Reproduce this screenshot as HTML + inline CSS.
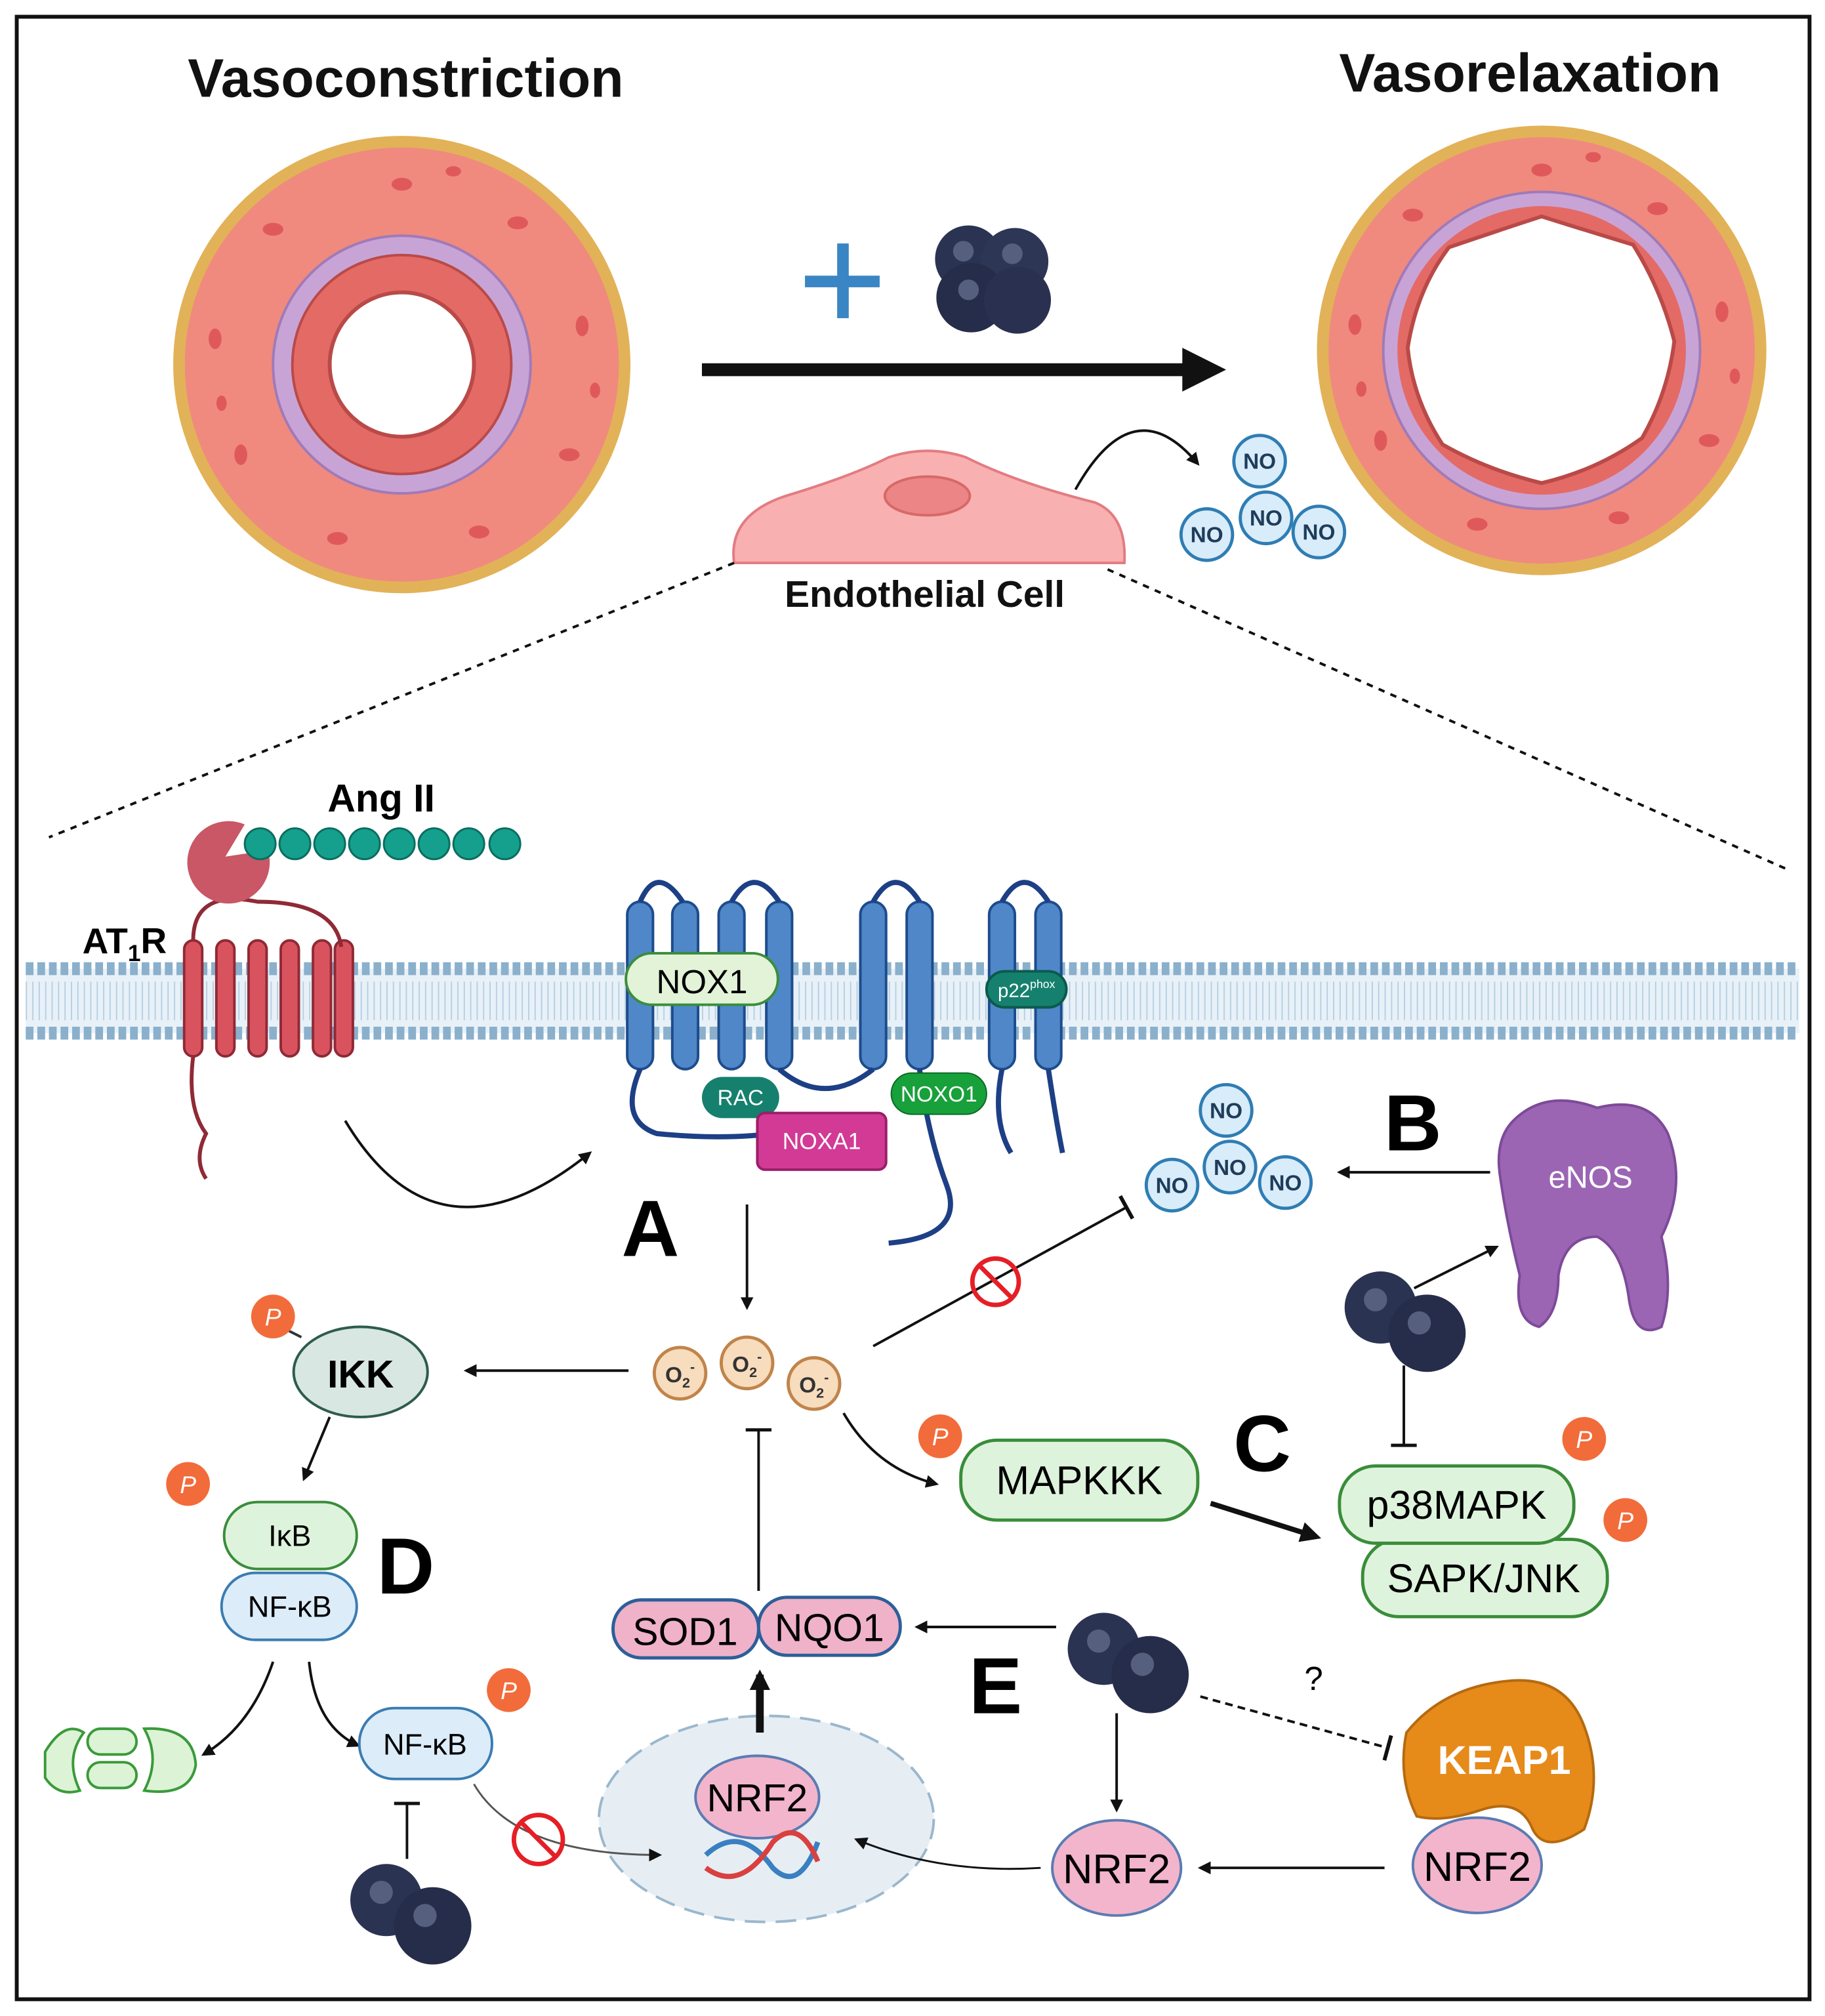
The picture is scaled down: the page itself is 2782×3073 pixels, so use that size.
<!DOCTYPE html>
<html><head><meta charset="utf-8"><style>
html,body{margin:0;padding:0;background:#fff}
svg{display:block}
text{font-family:"Liberation Sans",sans-serif}
</style></head><body>
<svg width="2782" height="3073" viewBox="0 0 1417 1565" preserveAspectRatio="none" xmlns="http://www.w3.org/2000/svg">
<defs>
<marker id="ah" markerWidth="10" markerHeight="10" refX="8" refY="5" orient="auto" markerUnits="userSpaceOnUse"><path d="M0,0 L10,5 L0,10 z" fill="#111"/></marker>
<marker id="ahb" markerWidth="16" markerHeight="16" refX="12" refY="8" orient="auto" markerUnits="userSpaceOnUse"><path d="M0,0 L16,8 L0,16 z" fill="#111"/></marker>
<marker id="tb" markerWidth="4" markerHeight="20" refX="2" refY="10" orient="auto" markerUnits="userSpaceOnUse"><rect x="0" y="0" width="3" height="20" fill="#111"/></marker>
<g id="bb">
<circle cx="-18" cy="-14" r="26" fill="#2b3352"/><circle cx="18" cy="-12" r="26" fill="#2e3656"/>
<circle cx="-16" cy="16" r="27" fill="#262d4a"/><circle cx="20" cy="18" r="26" fill="#2a3150"/>
<circle cx="-22" cy="-20" r="8" fill="#56607e"/><circle cx="16" cy="-18" r="8" fill="#56607e"/><circle cx="-18" cy="10" r="8" fill="#56607e"/>
</g>
<g id="bb2">
<circle cx="-18" cy="-10" r="28" fill="#2b3352"/><circle cx="18" cy="10" r="30" fill="#262d4a"/>
<circle cx="-22" cy="-16" r="9" fill="#56607e"/><circle cx="12" cy="2" r="9" fill="#56607e"/>
</g>
<g id="no"><circle r="20" fill="#d8ecfa" stroke="#2f7db3" stroke-width="2.5"/><text y="6" text-anchor="middle" font-size="17" font-weight="bold" fill="#1f3d5a">NO</text></g>
<g id="o2"><circle r="20" fill="#f7dcbd" stroke="#c0844a" stroke-width="2.5"/><text y="7" text-anchor="middle" font-size="17" font-weight="bold" fill="#333">O<tspan font-size="11" dy="4">2</tspan><tspan font-size="11" dy="-12">-</tspan></text></g>
<g id="p"><circle r="17" fill="#f26b3a"/><text y="7" text-anchor="middle" font-size="19" fill="#fff" font-style="italic">P</text></g>
<g id="cells" fill="#e0595a">
<ellipse cx="0" cy="-140" rx="8" ry="5"/><ellipse cx="90" cy="-110" rx="8" ry="5"/><ellipse cx="140" cy="-30" rx="5" ry="8"/><ellipse cx="130" cy="70" rx="8" ry="5"/><ellipse cx="60" cy="130" rx="8" ry="5"/><ellipse cx="-50" cy="135" rx="8" ry="5"/><ellipse cx="-125" cy="70" rx="5" ry="8"/><ellipse cx="-145" cy="-20" rx="5" ry="8"/><ellipse cx="-100" cy="-105" rx="8" ry="5"/><ellipse cx="40" cy="-150" rx="6" ry="4"/><ellipse cx="-140" cy="30" rx="4" ry="6"/><ellipse cx="150" cy="20" rx="4" ry="6"/>
</g>
</defs>

<rect x="13" y="13" width="1392" height="1539" fill="#fff" stroke="#111" stroke-width="3"/>

<text x="315" y="75" text-anchor="middle" font-size="42" font-weight="bold" fill="#111">Vasoconstriction</text>
<text x="1188" y="71" text-anchor="middle" font-size="42" font-weight="bold" fill="#111">Vasorelaxation</text>

<!-- left vessel -->
<circle cx="312" cy="283" r="173" fill="#f08a7e" stroke="#e2b258" stroke-width="9"/>
<use href="#cells" x="312" y="283"/>
<circle cx="312" cy="283" r="100" fill="#c8a4d6" stroke="#a07ab8" stroke-width="2"/>
<circle cx="312" cy="283" r="85" fill="#e46a66" stroke="#b94a48" stroke-width="2"/>
<circle cx="312" cy="283" r="56" fill="#fff" stroke="#b94a48" stroke-width="3"/>
<!-- right vessel -->
<circle cx="1197" cy="272" r="170" fill="#f08a7e" stroke="#e2b258" stroke-width="9"/>
<use href="#cells" x="1197" y="272"/>
<circle cx="1197" cy="272" r="123" fill="#c8a4d6" stroke="#a07ab8" stroke-width="2"/>
<circle cx="1197" cy="272" r="112" fill="#e46a66"/>
<path d="M1197,168 Q1235,180 1268,190 Q1290,225 1300,265 Q1295,305 1275,340 Q1240,365 1197,375 Q1155,365 1120,345 Q1097,310 1093,270 Q1100,225 1125,192 Q1160,180 1197,168 z" fill="#fff" stroke="#b94a48" stroke-width="3"/>

<!-- main arrow -->
<line x1="545" y1="287" x2="922" y2="287" stroke="#111" stroke-width="10"/>
<path d="M918,270 L952,287 L918,304 z" fill="#111"/>
<rect x="625" y="214" width="58" height="9" fill="#3a86c4"/><rect x="650" y="189" width="9" height="58" fill="#3a86c4"/>
<use href="#bb" x="770" y="215"/>

<!-- endothelial cell -->
<path d="M570,437 Q565,400 610,385 Q660,370 690,355 Q720,345 750,355 Q790,375 850,390 Q875,400 873,437 z" fill="#f9b0b0" stroke="#e27c82" stroke-width="2"/>
<ellipse cx="720" cy="385" rx="33" ry="15" fill="#ec8585" stroke="#d86868" stroke-width="2"/>
<text x="718" y="471" text-anchor="middle" font-size="29" font-weight="bold" fill="#111">Endothelial Cell</text>
<path d="M835,380 Q880,300 930,360" fill="none" stroke="#111" stroke-width="2" marker-end="url(#ah)"/>
<use href="#no" x="978" y="358"/><use href="#no" x="983" y="402"/><use href="#no" x="937" y="415"/><use href="#no" x="1024" y="413"/>

<line x1="570" y1="437" x2="38" y2="650" stroke="#111" stroke-width="2" stroke-dasharray="5,5"/>
<line x1="860" y1="442" x2="1388" y2="675" stroke="#111" stroke-width="2" stroke-dasharray="5,5"/>

<!-- membrane -->
<rect x="20" y="752" width="1377" height="50" fill="#e8f1f8"/>
<line x1="20" y1="752" x2="1397" y2="752" stroke="#8ab0cc" stroke-width="10" stroke-dasharray="6,3"/>
<line x1="20" y1="802" x2="1397" y2="802" stroke="#8ab0cc" stroke-width="10" stroke-dasharray="6,3"/>
<line x1="20" y1="777" x2="1397" y2="777" stroke="#b8d0e2" stroke-width="30" stroke-dasharray="1,4"/>

<!-- AT1R -->
<g fill="#d9535f" stroke="#8f2a36" stroke-width="2">
<rect x="143" y="730" width="14" height="90" rx="7"/><rect x="168" y="730" width="14" height="90" rx="7"/>
<rect x="193" y="730" width="14" height="90" rx="7"/><rect x="218" y="730" width="14" height="90" rx="7"/>
<rect x="243" y="730" width="14" height="90" rx="7"/><rect x="260" y="730" width="14" height="90" rx="7"/>
</g>
<path d="M150,730 Q150,690 200,700 Q260,700 265,735 M150,820 Q145,860 160,880 Q150,900 160,915" fill="none" stroke="#8f2a36" stroke-width="3"/>
<path d="M208,660 A32,32 0 1 1 190,640 L175,665 z" fill="#c95765"/>
<g fill="#14a08c" stroke="#0b6d60" stroke-width="1.5">
<circle cx="202" cy="655" r="12"/><circle cx="229" cy="655" r="12"/><circle cx="256" cy="655" r="12"/><circle cx="283" cy="655" r="12"/><circle cx="310" cy="655" r="12"/><circle cx="337" cy="655" r="12"/><circle cx="364" cy="655" r="12"/><circle cx="392" cy="655" r="12"/>
</g>
<text x="296" y="630" text-anchor="middle" font-size="30" font-weight="bold">Ang II</text>
<text x="64" y="740" font-size="28" font-weight="bold">AT<tspan font-size="18" dy="6">1</tspan><tspan dy="-6">R</tspan></text>

<!-- NOX complex -->
<g fill="#4f87c9" stroke="#1d4c8c" stroke-width="2">
<rect x="487" y="700" width="20" height="130" rx="10"/><rect x="522" y="700" width="20" height="130" rx="10"/>
<rect x="558" y="700" width="20" height="130" rx="10"/><rect x="595" y="700" width="20" height="130" rx="10"/>
<rect x="668" y="700" width="20" height="130" rx="10"/><rect x="704" y="700" width="20" height="130" rx="10"/>
<rect x="768" y="700" width="20" height="130" rx="10"/><rect x="804" y="700" width="20" height="130" rx="10"/>
</g>
<path d="M497,700 Q510,670 530,700 M568,700 Q585,670 605,700 M678,700 Q695,670 714,700 M778,700 Q795,670 814,700 M605,830 Q640,860 678,830 M497,830 Q480,870 510,880 Q560,885 600,880 M714,830 Q720,880 735,920 Q750,960 690,965 M778,830 Q770,870 785,895 M814,830 Q820,870 825,895" fill="none" stroke="#1d3f86" stroke-width="4"/>
<rect x="486" y="740" width="118" height="40" rx="20" fill="#e2f3d8" stroke="#3a8d3a" stroke-width="2"/>
<text x="545" y="771" text-anchor="middle" font-size="26">NOX1</text>
<rect x="766" y="754" width="62" height="28" rx="14" fill="#15806d" stroke="#0b5a4c" stroke-width="2"/>
<text x="797" y="774" text-anchor="middle" font-size="15" fill="#fff">p22<tspan font-size="9" dy="-7">phox</tspan></text>
<rect x="545" y="836" width="60" height="32" rx="16" fill="#15806d"/>
<text x="575" y="858" text-anchor="middle" font-size="17" fill="#fff">RAC</text>
<rect x="692" y="833" width="74" height="32" rx="16" fill="#18a03a" stroke="#0b6a24"/>
<text x="729" y="855" text-anchor="middle" font-size="17" fill="#fff">NOXO1</text>
<rect x="588" y="864" width="100" height="44" rx="6" fill="#d23a95" stroke="#9a1e6a" stroke-width="2"/>
<text x="638" y="892" text-anchor="middle" font-size="18" fill="#fff">NOXA1</text>
<path d="M268,870 Q340,990 458,895" fill="none" stroke="#111" stroke-width="2" marker-end="url(#ah)"/>

<text x="505" y="975" text-anchor="middle" font-size="62" font-weight="bold">A</text>
<text x="1097" y="893" text-anchor="middle" font-size="62" font-weight="bold">B</text>
<text x="980" y="1142" text-anchor="middle" font-size="62" font-weight="bold">C</text>
<text x="315" y="1237" text-anchor="middle" font-size="62" font-weight="bold">D</text>
<text x="773" y="1330" text-anchor="middle" font-size="62" font-weight="bold">E</text>

<line x1="580" y1="935" x2="580" y2="1015" stroke="#111" stroke-width="2" marker-end="url(#ah)"/>
<use href="#o2" x="528" y="1066"/><use href="#o2" x="580" y="1058"/><use href="#o2" x="632" y="1074"/>

<!-- B region -->
<use href="#no" x="952" y="862"/><use href="#no" x="955" y="906"/><use href="#no" x="910" y="920"/><use href="#no" x="998" y="918"/>
<line x1="1157" y1="910" x2="1040" y2="910" stroke="#111" stroke-width="2" marker-end="url(#ah)"/>
<path d="M1175,870 Q1200,845 1240,860 Q1280,850 1295,880 Q1310,920 1290,960 Q1300,1000 1290,1030 Q1270,1040 1265,1010 Q1260,970 1240,960 Q1215,960 1210,990 Q1210,1020 1195,1030 Q1175,1025 1180,990 Q1170,950 1165,915 Q1160,885 1175,870 z" fill="#9b65b4" stroke="#7d4a99" stroke-width="2"/>
<text x="1235" y="922" text-anchor="middle" font-size="24" fill="#fff">eNOS</text>
<use href="#bb2" x="1090" y="1025"/>
<line x1="1098" y1="1000" x2="1162" y2="968" stroke="#111" stroke-width="2" marker-end="url(#ah)"/>
<line x1="678" y1="1045" x2="875" y2="937" stroke="#111" stroke-width="2" marker-end="url(#tb)"/>
<circle cx="773" cy="995" r="18" fill="none" stroke="#e61e25" stroke-width="3.5"/><line x1="760" y1="982" x2="786" y2="1008" stroke="#e61e25" stroke-width="3.5"/>

<!-- D region -->
<line x1="488" y1="1064" x2="362" y2="1064" stroke="#111" stroke-width="2" marker-end="url(#ah)"/>
<ellipse cx="280" cy="1065" rx="52" ry="35" fill="#d8e7e2" stroke="#2f5b4f" stroke-width="2"/>
<text x="280" y="1077" text-anchor="middle" font-size="30" font-weight="bold">IKK</text>
<line x1="234" y1="1038" x2="222" y2="1032" stroke="#333" stroke-width="2"/>
<use href="#p" x="212" y="1022"/>
<line x1="256" y1="1100" x2="236" y2="1148" stroke="#111" stroke-width="2" marker-end="url(#ah)"/>
<use href="#p" x="146" y="1152"/>
<rect x="174" y="1166" width="103" height="52" rx="26" fill="#def3dc" stroke="#3a8d3a" stroke-width="2"/>
<text x="225" y="1200" text-anchor="middle" font-size="23">IκB</text>
<rect x="172" y="1221" width="105" height="52" rx="26" fill="#dcecf8" stroke="#3a7cb3" stroke-width="2"/>
<text x="225" y="1255" text-anchor="middle" font-size="23">NF-κB</text>
<path d="M212,1290 Q195,1340 158,1362" fill="none" stroke="#111" stroke-width="2" marker-end="url(#ah)"/>
<path d="M240,1290 Q245,1340 278,1355" fill="none" stroke="#111" stroke-width="2" marker-end="url(#ah)"/>
<g fill="#dcf3d6" stroke="#3a9a3a" stroke-width="2">
<path d="M35,1360 Q50,1335 65,1345 Q50,1365 62,1390 Q45,1395 35,1380 z"/>
<rect x="68" y="1342" width="38" height="20" rx="10"/><rect x="68" y="1368" width="38" height="20" rx="10"/>
<path d="M112,1342 Q150,1340 152,1370 Q148,1395 112,1390 Q125,1365 112,1342 z"/>
</g>
<rect x="279" y="1326" width="103" height="55" rx="27" fill="#dcecf8" stroke="#3a7cb3" stroke-width="2"/>
<text x="330" y="1362" text-anchor="middle" font-size="23">NF-κB</text>
<use href="#p" x="395" y="1312"/>
<line x1="316" y1="1400" x2="316" y2="1443" stroke="#111" stroke-width="2"/><line x1="306" y1="1400" x2="326" y2="1400" stroke="#111" stroke-width="2.5"/>
<use href="#bb2" x="318" y="1485"/>

<!-- nucleus / E region -->
<ellipse cx="595" cy="1412" rx="130" ry="80" fill="#e6eef4" stroke="#9bb7cc" stroke-width="2" stroke-dasharray="16,8"/>
<path d="M368,1385 Q400,1440 512,1440" fill="none" stroke="#555" stroke-width="1.5" marker-end="url(#ah)"/>
<circle cx="418" cy="1428" r="19" fill="#fff" fill-opacity="0" stroke="#e61e25" stroke-width="3.5"/><line x1="405" y1="1415" x2="431" y2="1441" stroke="#e61e25" stroke-width="3.5"/>
<ellipse cx="588" cy="1395" rx="48" ry="32" fill="#f2b5cc" stroke="#5b7bb3" stroke-width="2"/>
<text x="588" y="1406" text-anchor="middle" font-size="30">NRF2</text>
<path d="M548,1440 Q575,1415 600,1450 Q620,1470 635,1430" fill="none" stroke="#3a7fc1" stroke-width="4"/>
<path d="M548,1450 Q575,1470 600,1430 Q620,1410 635,1445" fill="none" stroke="#d94040" stroke-width="4"/>
<line x1="590" y1="1345" x2="590" y2="1300" stroke="#111" stroke-width="6" marker-end="url(#ahb)"/>
<rect x="476" y="1242" width="113" height="45" rx="22" fill="#efb2c9" stroke="#2d5f99" stroke-width="2.5"/>
<text x="532" y="1277" text-anchor="middle" font-size="30">SOD1</text>
<rect x="589" y="1240" width="110" height="45" rx="22" fill="#efb2c9" stroke="#2d5f99" stroke-width="2.5"/>
<text x="644" y="1274" text-anchor="middle" font-size="30">NQO1</text>
<line x1="589" y1="1235" x2="589" y2="1110" stroke="#111" stroke-width="2"/><line x1="579" y1="1110" x2="599" y2="1110" stroke="#111" stroke-width="2.5"/>
<line x1="820" y1="1263" x2="712" y2="1263" stroke="#111" stroke-width="2" marker-end="url(#ah)"/>
<use href="#bb2" x="875" y="1290"/>
<line x1="867" y1="1330" x2="867" y2="1405" stroke="#111" stroke-width="2" marker-end="url(#ah)"/>
<line x1="932" y1="1317" x2="1078" y2="1357" stroke="#111" stroke-width="2" stroke-dasharray="6,4" marker-end="url(#tb)"/>
<text x="1020" y="1312" text-anchor="middle" font-size="26">?</text>
<ellipse cx="867" cy="1450" rx="50" ry="37" fill="#f2b5cc" stroke="#5b7bb3" stroke-width="2"/>
<text x="867" y="1462" text-anchor="middle" font-size="32">NRF2</text>
<path d="M808,1450 Q730,1455 665,1428" fill="none" stroke="#111" stroke-width="1.5" marker-end="url(#ah)"/>
<path d="M1092,1345 Q1120,1310 1170,1305 Q1215,1300 1230,1340 Q1245,1380 1230,1420 Q1200,1440 1190,1420 Q1180,1395 1150,1405 Q1120,1415 1100,1410 Q1085,1380 1092,1345 z" fill="#e68a1a" stroke="#b56a10" stroke-width="2"/>
<text x="1168" y="1377" text-anchor="middle" font-size="31" font-weight="bold" fill="#fff">KEAP1</text>
<ellipse cx="1147" cy="1448" rx="50" ry="37" fill="#f2b5cc" stroke="#5b7bb3" stroke-width="2"/>
<text x="1147" y="1460" text-anchor="middle" font-size="32">NRF2</text>
<line x1="1075" y1="1450" x2="932" y2="1450" stroke="#111" stroke-width="2" marker-end="url(#ah)"/>

<!-- C region -->
<path d="M655,1097 Q680,1140 727,1152" fill="none" stroke="#111" stroke-width="2" marker-end="url(#ah)"/>
<use href="#p" x="730" y="1115"/>
<rect x="746" y="1118" width="184" height="62" rx="28" fill="#def3dc" stroke="#3a8d3a" stroke-width="2.5"/>
<text x="838" y="1160" text-anchor="middle" font-size="31">MAPKKK</text>
<line x1="940" y1="1167" x2="1022" y2="1193" stroke="#111" stroke-width="4" marker-end="url(#ahb)"/>
<line x1="1090" y1="1060" x2="1090" y2="1122" stroke="#111" stroke-width="2"/><line x1="1080" y1="1122" x2="1100" y2="1122" stroke="#111" stroke-width="2.5"/>
<rect x="1058" y="1195" width="190" height="60" rx="28" fill="#def3dc" stroke="#3a8d3a" stroke-width="2.5"/>
<text x="1152" y="1236" text-anchor="middle" font-size="31">SAPK/JNK</text>
<rect x="1040" y="1138" width="182" height="60" rx="28" fill="#def3dc" stroke="#3a8d3a" stroke-width="2.5"/>
<text x="1131" y="1179" text-anchor="middle" font-size="31">p38MAPK</text>
<use href="#p" x="1230" y="1117"/>
<use href="#p" x="1262" y="1180"/>
</svg>
</body></html>
